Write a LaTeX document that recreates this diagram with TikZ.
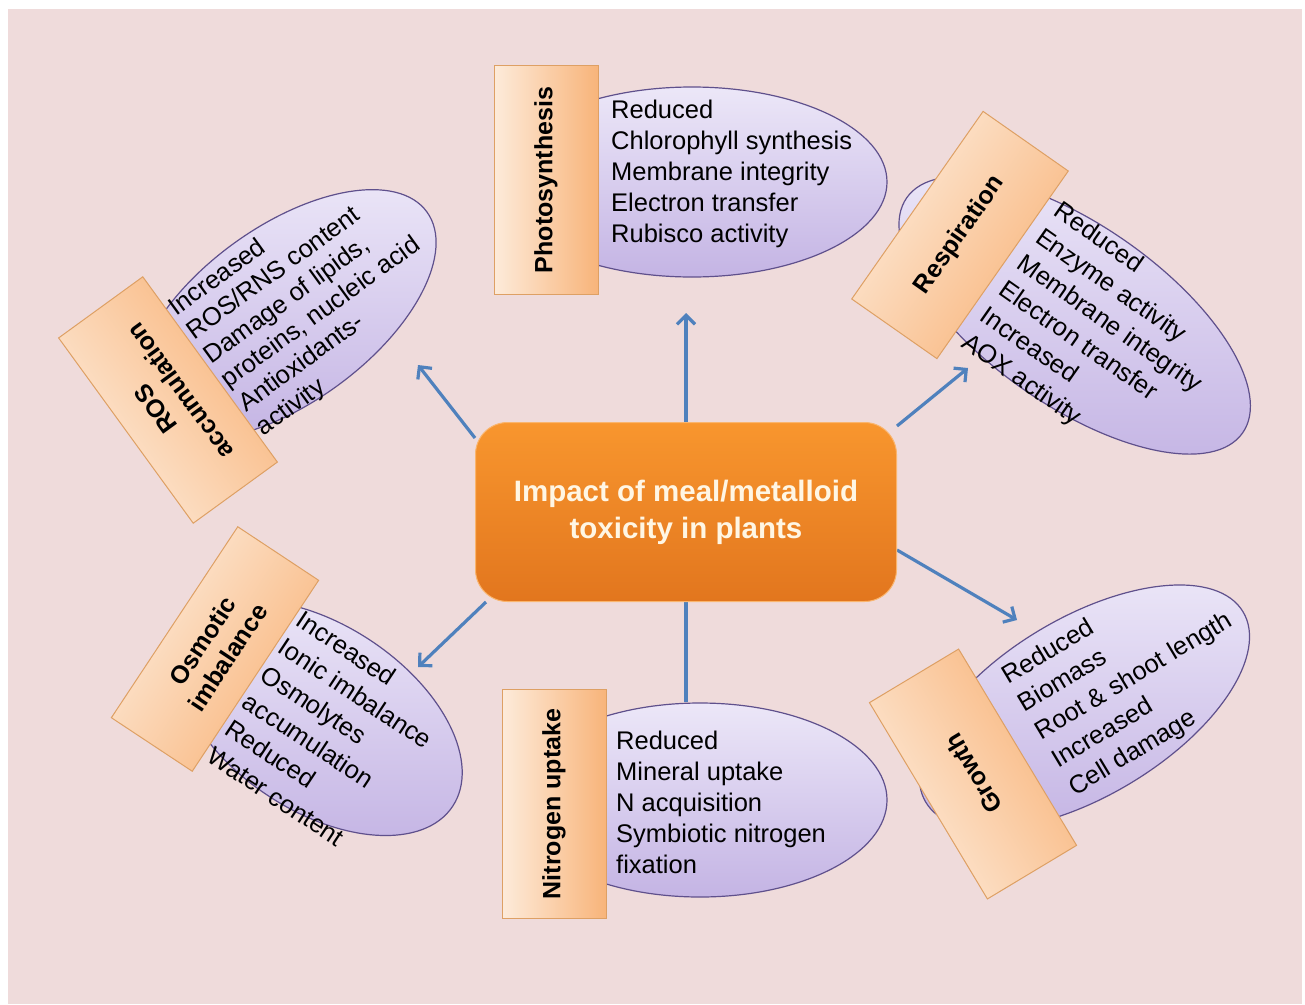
\documentclass[tikz,border=0pt]{standalone}
\usepackage{fontspec}
\setmainfont{Liberation Sans}
\usetikzlibrary{shapes.geometric,arrows.meta,backgrounds}
\definecolor{bgpink}{RGB}{239,219,219}
\definecolor{linkblue}{RGB}{79,129,189}
\definecolor{ovalline}{RGB}{95,80,140}
\definecolor{ovaltop}{RGB}{236,231,248}
\definecolor{ovalbot}{RGB}{196,180,228}
\definecolor{tagtop}{RGB}{253,235,218}
\definecolor{tagbot}{RGB}{248,180,122}
\definecolor{tagline}{RGB}{222,160,100}
\definecolor{hubtop}{RGB}{248,150,46}
\definecolor{hubbot}{RGB}{226,118,30}
\definecolor{hubtext}{RGB}{255,246,228}

\begin{document}
\begin{tikzpicture}[x=1pt,y=-1pt,
  oval/.style={ellipse,draw=ovalline,line width=1.2pt,top color=ovaltop,bottom color=ovalbot,inner sep=0pt},
  tag/.style={rectangle,draw=tagline,line width=1pt,top color=tagtop,bottom color=tagbot,minimum width=229pt,minimum height=104pt,rotate=90,inner sep=0pt,font=\bfseries\fontsize{25}{30}\selectfont,align=center},
  list/.style={anchor=west,align=left,inner sep=0pt,font=\fontsize{25.5}{31}\selectfont},
  hub/.style={rectangle,rounded corners=32pt,draw=hubtop!70!white,line width=1pt,top color=hubtop,bottom color=hubbot,minimum width=421pt,minimum height=179pt,text=hubtext,align=center,font=\bfseries\fontsize{29.5}{37}\selectfont},
  link/.style={draw=linkblue,line width=3.2pt,-{Straight Barb[length=9pt,width=18pt]}}]
\useasboundingbox (0,0) rectangle (1305,1004);

\node[hub] (hub) at (686,512) {Impact of meal/metalloid\\toxicity in plants};

\begin{scope}[shift={(546,180)},transform shape]
\node[oval,minimum width=390pt,minimum height=190pt] (photoOval) at (146,2) {};
\node[tag,shading angle=90] (photoTag) at (0,0) {Photosynthesis};
\node[list] (photoList) at (65,-6) {Reduced\\Chlorophyll synthesis\\Membrane integrity\\Electron transfer\\Rubisco activity};
\end{scope}

\begin{scope}[shift={(554,804)},transform shape]
\node[oval,minimum width=374pt,minimum height=194pt] (nitroOval) at (146,-4) {};
\node[tag,shading angle=90] (nitroTag) at (0,0) {Nitrogen uptake};
\node[list] (nitroList) at (62,-2) {Reduced\\Mineral uptake\\N acquisition\\Symbiotic nitrogen\\fixation};
\end{scope}

\begin{scope}[shift={(168,400)},rotate=36,transform shape]
\node[oval,minimum width=350pt,minimum height=176pt] (rosOval) at (145,0) {};
\node[tag,shading angle=126] (rosTag) at (0,0) {ROS\\accumulation};
\node[list,font=\fontsize{25.5}{29.6}\selectfont] (rosList) at (56,5) {Increased\\ROS/RNS content\\Damage of lipids,\\proteins, nucleic acid\\Antioxidants-\\activity};
\end{scope}

\begin{scope}[shift={(960,235)},rotate=-35,transform shape]
\node[oval,minimum width=410pt,minimum height=180pt] (respOval) at (140,0) {};
\node[tag,shading angle=55] (respTag) at (0,0) {Respiration};
\node[list,font=\fontsize{25.5}{32}\selectfont] (respList) at (64,4) {Reduced\\Enzyme activity\\Membrane integrity\\Electron transfer\\Increased\\AOX activity};
\end{scope}

\begin{scope}[shift={(215,649)},rotate=-33.5,transform shape]
\node[oval,minimum width=320pt,minimum height=186pt] (osmoOval) at (125,0) {};
\node[tag,minimum height=97pt,shading angle=56.5] (osmoTag) at (0,0) {Osmotic\\imbalance};
\node[list,font=\fontsize{25.5}{32.5}\selectfont] (osmoList) at (53,8) {Increased\\Ionic imbalance\\Osmolytes\\accumulation\\Reduced\\Water content};
\end{scope}

\begin{scope}[shift={(973,774)},rotate=31,transform shape]
\node[oval,minimum width=370pt,minimum height=178pt] (growOval) at (130,0) {};
\node[tag,shading angle=121] (growTag) at (0,0) {Growth};
\node[list,font=\fontsize{25.5}{32.5}\selectfont] (growList) at (76,0) {Reduced\\Biomass\\Root \& shoot length\\Increased\\Cell damage};
\end{scope}

\coordinate (toPhoto) at (686,313);
\coordinate (toRos) at (418,365);
\coordinate (toResp) at (968,368);
\coordinate (toOsmo) at (418,667);
\coordinate (toGrow) at (1017,620);

\begin{pgfonlayer}{background}
\fill[bgpink] (8,9) rectangle (1302,1004);
\draw[link] (hub.north) -- (toPhoto);
\draw[link] ([yshift=74pt]hub.west) -- (toRos);
\draw[link] ([yshift=-4pt]hub.north east) -- (toResp);
\draw[link] ([xshift=11pt]hub.south west) -- (toOsmo);
\draw[link] ([yshift=-38pt]hub.east) -- (toGrow);
\draw[draw=linkblue,line width=3.2pt] (hub.south) -- (hub.south |- nitroOval.north);
\end{pgfonlayer}
\end{tikzpicture}
\end{document}
